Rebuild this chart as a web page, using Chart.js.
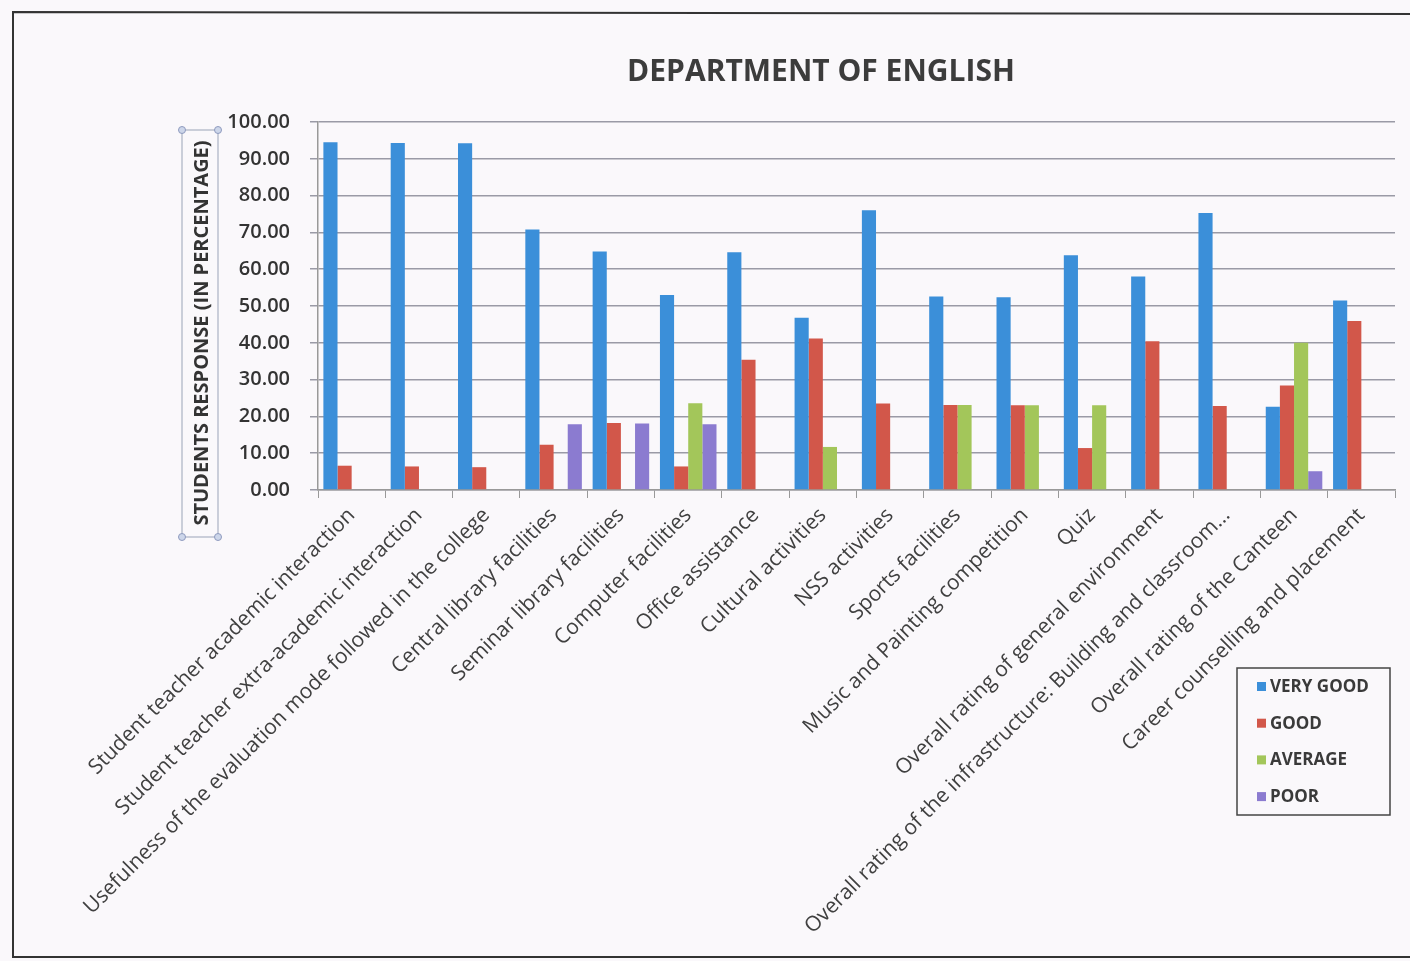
<!DOCTYPE html>
<html>
<head>
<meta charset="utf-8">
<script src="https://cdn.jsdelivr.net/npm/chart.js@4.4.1/dist/chart.umd.min.js"></script>
<style>
  html, body { margin: 0; padding: 0; background: #faf8fb; }
  canvas { display: block; }
</style>
</head>
<body>
<canvas id="c" width="1410" height="961"></canvas>
<script>
const categories = [
  "Student teacher academic interaction",
  "Student teacher extra-academic interaction",
  "Usefulness of the evaluation mode followed in the college",
  "Central library facilities",
  "Seminar library facilities",
  "Computer facilities",
  "Office assistance",
  "Cultural activities",
  "NSS activities",
  "Sports facilities",
  "Music and Painting competition",
  "Quiz",
  "Overall rating of general environment",
  "Overall rating of the infrastructure: Building and classroom...",
  "Overall rating of the Canteen",
  "Career counselling and placement"
];
const seriesNames = ["VERY GOOD", "GOOD", "AVERAGE", "POOR"];
const veryGood = [94.5, 94.3, 94.2, 70.8, 64.8, 53.0, 64.6, 46.8, 76.0, 52.6, 52.4, 63.8, 58.0, 75.3, 22.6, 51.5];
const good     = [6.6, 6.4, 6.2, 12.3, 18.2, 6.4, 35.4, 41.2, 23.5, 23.1, 23.0, 11.4, 40.4, 22.8, 28.4, 45.9];
const average  = [0, 0, 0, 0, 0, 23.6, 0, 11.7, 0, 23.1, 23.0, 23.0, 0, 0, 40.0, 0];
const poor     = [0, 0, 0, 17.9, 18.1, 17.9, 0, 0, 0, 0, 0, 0, 0, 0, 5.1, 0];
const yTicks = [0, 10, 20, 30, 40, 50, 60, 70, 80, 90, 100];
const chartTitle = "DEPARTMENT OF ENGLISH";
const yTitle = "STUDENTS RESPONSE (IN PERCENTAGE)";

const colors = ["#3b8fd9", "#d2574a", "#a3c65a", "#8b7bd0"];
const FONT = "'Open Sans', 'Noto Sans', sans-serif";

const decor = {
  id: "decor",
  beforeDraw(chart) {
    const ctx = chart.ctx;
    ctx.save();
    ctx.fillStyle = "#faf8fb";
    ctx.fillRect(0, 0, chart.width, chart.height);
    ctx.restore();
  },
  afterDraw(chart) {
    const ctx = chart.ctx;
    ctx.save();
    // outer border
    ctx.strokeStyle = "#333";
    ctx.lineWidth = 2;
    ctx.beginPath();
    ctx.moveTo(1420, 14);
    ctx.lineTo(13, 12);
    ctx.lineTo(13, 957);
    ctx.lineTo(1420, 957);
    ctx.stroke();

    // title
    ctx.fillStyle = "#3c3c3c";
    ctx.font = "bold 30px " + FONT;
    ctx.textAlign = "center";
    ctx.textBaseline = "middle";
    ctx.fillText(chartTitle, 821, 72);

    // y-axis title with selection box
    ctx.save();
    ctx.translate(201, 333);
    ctx.rotate(-Math.PI / 2);
    ctx.font = "bold 20px " + FONT;
    ctx.fillStyle = "#333";
    ctx.fillText(yTitle, 0, 1);
    ctx.restore();
    ctx.strokeStyle = "#9aa3b8";
    ctx.lineWidth = 1;
    ctx.strokeRect(182, 130, 36, 407);
    ctx.fillStyle = "#cdd6ea";
    ctx.strokeStyle = "#8f9bbf";
    [[182,130],[218,130],[182,537],[218,537]].forEach(([x,y]) => {
      ctx.beginPath(); ctx.arc(x, y, 3.5, 0, Math.PI*2); ctx.fill(); ctx.stroke();
    });

    // legend
    ctx.strokeStyle = "#444";
    ctx.lineWidth = 1.5;
    ctx.strokeRect(1237, 668, 153, 147);
    ctx.font = "bold 17px " + FONT;
    ctx.textAlign = "left";
    ctx.textBaseline = "middle";
    chart.data.datasets.forEach((ds, i) => {
      const y = 686 + i * 36.7;
      ctx.fillStyle = ds.backgroundColor;
      ctx.fillRect(1257, y - 4, 9, 9);
      ctx.fillStyle = "#3a3a3a";
      ctx.fillText(ds.label, 1270, y + 1);
    });
    ctx.restore();
  }
};

const seriesData = [veryGood, good, average, poor];
new Chart(document.getElementById("c"), {
  type: "bar",
  data: {
    labels: categories,
    datasets: seriesNames.map((n, i) => ({
      label: n,
      data: seriesData[i],
      backgroundColor: colors[i],
      borderColor: colors[i],
      borderWidth: 0,
      categoryPercentage: 0.84,
      barPercentage: 1.0
    }))
  },
  options: {
    responsive: false,
    animation: false,
    layout: { padding: { left: 180, right: 15, top: 122, bottom: 0 } },
    plugins: {
      legend: { display: false },
      title: { display: false },
      tooltip: { enabled: false }
    },
    scales: {
      x: {
        offset: true,
        grid: { display: true, drawOnChartArea: false, drawTicks: true, tickLength: 8, offset: true, color: "#999" },
        border: { display: true, color: "#999", width: 1.5 },
        ticks: {
          autoSkip: false,
          minRotation: 45,
          maxRotation: 45,
          padding: 5,
          color: "#404040",
          font: { family: FONT, size: 21 }
        },
        afterFit(scale) { scale.height = 471; scale.paddingLeft = 0; scale.paddingRight = 0; }
      },
      y: {
        min: 0,
        max: 100,
        afterBuildTicks(scale) { scale.ticks = yTicks.map(v => ({ value: v })); },
        grid: { color: "#9a9aa6", lineWidth: 1.5, tickLength: 8 },
        border: { display: true, color: "#999", width: 1.5 },
        ticks: {
          padding: 20,
          color: "#333",
          font: { family: FONT, size: 20, weight: "600" },
          callback: v => Number(v).toFixed(2)
        },
        afterFit(scale) { scale.width = 138; scale.paddingTop = 0; scale.paddingBottom = 0; }
      }
    }
  },
  plugins: [decor]
});
</script>
</body>
</html>
